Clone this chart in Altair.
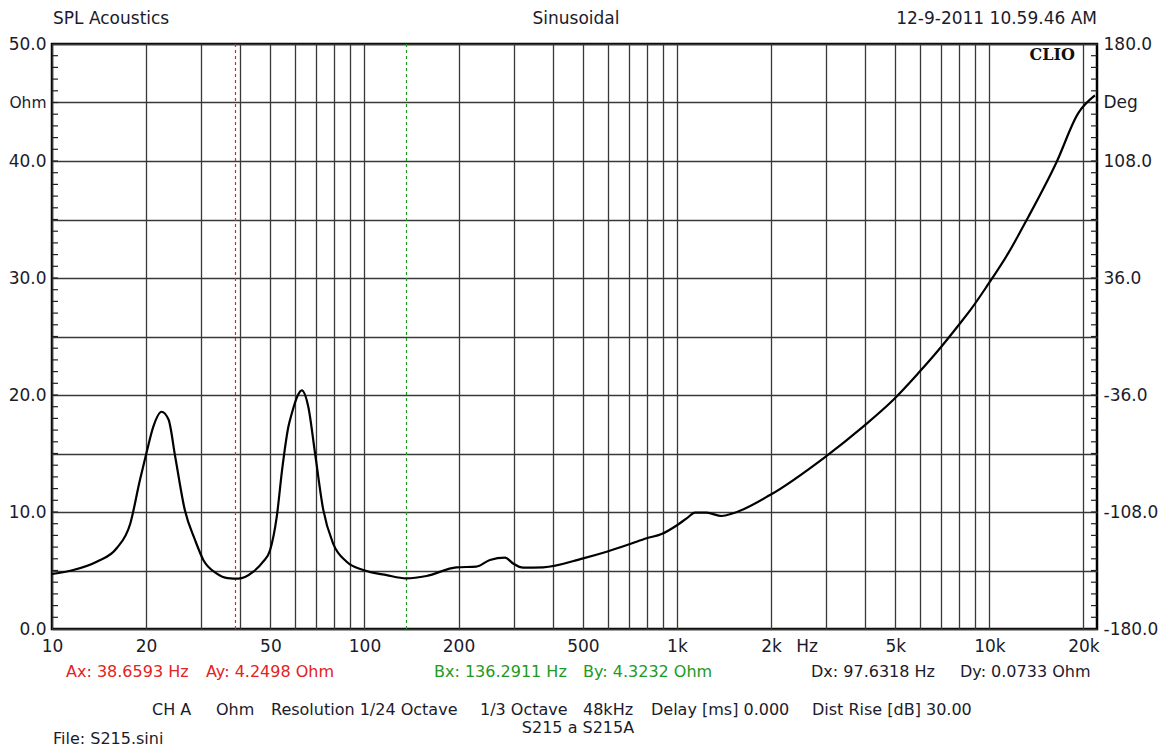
import altair as alt
import pandas as pd

# ---- data ----
freq = [10, 11.7, 13.9, 16.1, 17.8, 19.1, 20.1, 21.1, 22.4, 23.6, 24.8, 26.6, 28.7,
        30.5, 33.6, 36.5, 39.5, 44.1, 47.4, 49.9, 52.4, 54.5, 57.1, 58.5, 61, 63,
        66.1, 69.5, 73.8, 79.4, 87.7, 99.1, 117.8, 136, 158, 197, 228, 252, 282,
        299, 322, 373, 501, 596, 708, 800, 893, 998, 1080, 1142, 1245, 1390, 1514,
        1985, 2979, 3945, 4920, 5915, 6854, 7851, 8771, 9797, 11480, 13310, 16400,
        19230, 21760]
ohm = [4.70, 5.04, 5.75, 6.9, 9.0, 12.7, 15.15, 17.3, 18.57, 17.9, 14.7, 10.2, 7.6,
       5.9, 4.76, 4.35, 4.3, 4.9, 5.75, 6.75, 9.6, 13.6, 17.3, 18.4, 19.9, 20.4,
       19.0, 15.0, 10.2, 7.3, 5.75, 5.04, 4.6, 4.33, 4.53, 5.27, 5.33, 5.9, 6.1,
       5.6, 5.24, 5.27, 6.04, 6.6, 7.26, 7.75, 8.12, 8.85, 9.5, 9.94, 9.94, 9.66, 9.89,
       11.45, 14.7, 17.3, 19.57, 21.85, 23.8, 25.75, 27.4, 29.26, 32.1, 35.2, 39.9,
       44.07, 45.6]

grid_freqs = [10, 20, 30, 40, 50, 60, 70, 80, 90,
              100, 200, 300, 400, 500, 600, 700, 800, 900,
              1000, 2000, 3000, 4000, 5000, 6000, 7000, 8000, 9000,
              10000, 20000]
ohm_grid = [0, 5, 10, 15, 20, 25, 30, 35, 40, 45, 50]
ohm_ticks = list(range(1, 50))
deg_ticks = [round(-180 + 7.2 * i, 1) for i in range(1, 50)]
deg_labels = [-180, -144, -108, -72, -36, 0, 36, 72, 108, 144, 180]
cursor_a = [38.6593]
cursor_b = [136.2911]

W, H = 1045, 585
FONT = "DejaVu Sans"
TXT = "#1b1b2b"
FS = 17
FI = 16
RED = "#e32222"
GREEN = "#229922"

xscale = alt.Scale(type="log", domain=[10, 22100], nice=False)
yscale = alt.Scale(domain=[0, 50], nice=False)
dscale = alt.Scale(domain=[-180, 180], nice=False)

curve_df = pd.DataFrame({"f": freq, "z": ohm})

x_axis = alt.Axis(
    values=grid_freqs, grid=True, gridColor="#383838", gridWidth=1.3,
    ticks=False, domain=False, title=None, labelFont=FONT, labelFontSize=FS,
    labelColor=TXT, labelPadding=9, labelFlush=False, labelOverlap=False,
    labelExpr="indexof([10,20,50,100,200,500,1000,2000,5000,10000,20000], datum.value) >= 0 ? "
              "(datum.value >= 1000 ? (datum.value/1000) + 'k' : '' + datum.value) : ''",
)
y_axis = alt.Axis(
    values=ohm_grid, grid=True, gridColor="#383838", gridWidth=1.3,
    ticks=False, domain=False, title=None, labelFont=FONT,
    labelFontSize={"condition": {"test": "datum.value == 45", "value": 15.5}, "value": FS},
    labelColor=TXT, labelPadding=6, labelFlush=False, labelOverlap=False,
    labelExpr="datum.value == 45 ? 'Ohm' : (datum.value % 10 == 0 ? format(datum.value, '.1f') : '')",
)
d_axis = alt.Axis(
    values=deg_labels, grid=False, ticks=False, domain=False, title=None,
    orient="right", labelFont=FONT, labelFontSize=FS, labelColor=TXT,
    labelPadding=6, labelFlush=False, labelOverlap=False,
    labelExpr="datum.value == 144 ? 'Deg' : (abs(datum.value) % 72 == 36 ? "
              "((datum.value < 0 ? '-' : '') + format(abs(datum.value), '.1f')) : '')",
)

X = alt.X("f:Q", scale=xscale, axis=x_axis)

cur_a = alt.Chart(pd.DataFrame({"f": cursor_a})).mark_rule(
    color=RED, strokeDash=[3, 3], strokeWidth=1.2
).encode(x=X)
cur_b = alt.Chart(pd.DataFrame({"f": cursor_b})).mark_rule(
    color=GREEN, strokeDash=[3, 3], strokeWidth=1.2
).encode(x=X)

line = alt.Chart(curve_df).mark_line(
    color="black", strokeWidth=2.2, interpolate="monotone"
).encode(
    x=X,
    y=alt.Y("z:Q", scale=yscale, axis=y_axis),
)

left_ticks = alt.Chart(pd.DataFrame({"t": ohm_ticks})).mark_rule(
    color="#222222", strokeWidth=1.2
).encode(
    y=alt.Y("t:Q", scale=yscale, axis=y_axis),
    x=alt.value(0), x2=alt.value(6),
)

one = pd.DataFrame({"k": [0]})


def txt(text, x, y, color=TXT, align="left", size=FI, font=FONT, weight="normal",
        baseline="middle"):
    return alt.Chart(one).mark_text(
        text=text, align=align, baseline=baseline, font=font, fontSize=size,
        color=color, fontWeight=weight,
    ).encode(x=alt.value(x), y=alt.value(y))


# page position (px, py) -> chart coords (px - 52, py - 44)
texts = [
    txt("SPL Acoustics", 1, -20, size=FS, baseline="alphabetic"),
    txt("Sinusoidal", 524, -20, size=FS, align="center", baseline="alphabetic"),
    txt("12-9-2011 10.59.46 AM", 1045, -20, size=FS, align="right", baseline="alphabetic"),
    txt("CLIO", 1023, 11, color="#111111", align="right", size=16,
        font="DejaVu Serif", weight="bold"),
    txt("Hz", 755, 603, size=FS, align="center"),
    txt("Ax: 38.6593 Hz", 14, 628, color=RED),
    txt("Ay: 4.2498 Ohm", 154, 628, color=RED),
    txt("Bx: 136.2911 Hz", 382, 628, color=GREEN),
    txt("By: 4.3232 Ohm", 531, 628, color=GREEN),
    txt("Dx: 97.6318 Hz", 759, 628),
    txt("Dy: 0.0733 Ohm", 908, 628),
    txt("CH A", 100, 666),
    txt("Ohm", 164, 666),
    txt("Resolution 1/24 Octave", 219, 666),
    txt("1/3 Octave", 428, 666),
    txt("48kHz", 531, 666),
    txt("Delay [ms] 0.000", 599, 666),
    txt("Dist Rise [dB] 30.00", 760, 666),
    txt("S215 a S215A", 526, 684, align="center"),
    txt("File: S215.sini", 1, 700, baseline="alphabetic"),
]

left = alt.layer(cur_a, cur_b, left_ticks, line, *texts)

right_ticks = alt.Chart(pd.DataFrame({"d": deg_ticks})).mark_rule(
    color="#222222", strokeWidth=1.2
).encode(
    y=alt.Y("d:Q", scale=dscale, axis=d_axis),
    x=alt.value(W - 6), x2=alt.value(W),
)

chart = alt.layer(left, right_ticks).resolve_scale(y="independent").properties(
    width=W, height=H,
    autosize=alt.AutoSizeParams(type="none"),
    padding={"left": 44, "top": 36, "right": 63, "bottom": 119},
    background="white",
).configure_view(stroke="black", strokeWidth=2.5)

chart.save("out.html", embed_options={"renderer": "svg", "actions": False})
